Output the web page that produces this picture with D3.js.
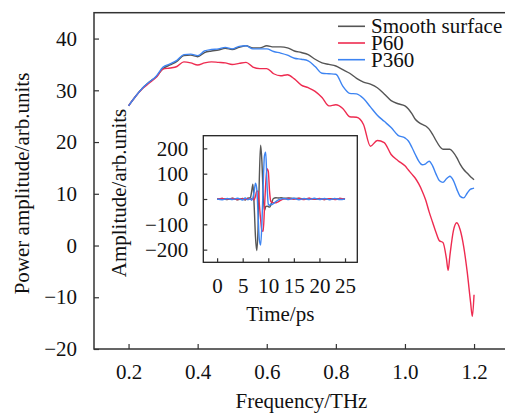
<!DOCTYPE html>
<html>
<meta charset="utf-8">
<title>Power spectrum</title>
<style>
body { margin: 0; background: #fff; }
text { font-family: "Liberation Serif", "Times New Roman", serif; font-size: 21px; fill: #111; }
.axis path { stroke: #333; }
.axis line { stroke: #333; stroke-width: 1.2; }
.serie { fill: none; stroke-width: 1.4; }
</style>
<script src="https://cdnjs.cloudflare.com/ajax/libs/d3/7.8.5/d3.min.js" charset="utf-8"></script>
<body>
<div id="chart"></div>
<script type="text/javascript">
// frequences (THz)
var freq = [0.20,0.22,0.24,0.26,0.28,0.30,0.32,0.34,0.36,0.38,0.40,0.42,0.44,0.46,0.48,0.50,
  0.52,0.54,0.56,0.58,0.60,0.62,0.64,0.66,0.68,0.70,0.72,0.74,0.76,0.78,0.80,0.82,0.84,0.86,
  0.88,0.90,0.92,0.94,0.96,0.98,1.00,1.01,1.02,1.03,1.04,1.05,1.06,1.07,1.08,1.09,1.10,1.11,
  1.12,1.125,1.13,1.14,1.15,1.16,1.17,1.18,1.19,1.195,1.20];
var smooth = [27.0,28.8,30.4,31.6,32.6,34.2,34.9,35.6,36.7,36.8,36.5,37.3,37.6,37.8,38.1,37.9,
  38.3,38.6,38.2,38.2,38.6,38.4,38.4,38.2,37.6,37.3,36.9,36.0,35.3,35.0,34.7,34.0,33.3,32.3,
  31.6,31.2,30.5,29.3,28.0,27.4,27.0,26.4,25.5,24.4,23.8,23.4,23.1,22.5,21.5,20.3,19.2,18.6,
  18.6,18.6,18.6,18.0,17.0,15.7,14.7,14.0,13.3,13.0,12.7];
var p60 = [27.0,28.8,30.3,31.4,32.5,34.1,34.3,34.6,35.5,35.3,34.9,35.3,35.5,35.4,35.3,35.0,
  35.2,35.4,34.5,34.2,34.2,33.2,32.8,33.0,32.2,31.0,30.5,29.8,28.6,27.0,27.2,26.5,24.9,24.8,
  23.4,19.2,20.3,19.9,17.6,16.4,15.4,14.6,13.8,13.0,11.9,10.5,8.8,6.5,4.5,2.5,0.9,0.6,
  -2.5,-4.8,-2.0,2.8,4.4,3.0,-0.2,-5.0,-11.0,-13.7,-9.5];
var p360 = [27.0,28.8,30.4,31.6,32.7,34.5,35.1,35.8,36.9,37.0,36.7,37.6,37.9,38.0,38.3,38.0,
  38.5,38.6,38.0,38.0,38.0,37.5,37.2,36.8,36.2,36.0,35.7,34.6,33.3,33.2,33.1,30.8,29.4,29.3,
  28.4,26.8,25.2,24.0,22.8,21.3,20.8,20.2,19.0,17.6,16.3,15.6,15.8,16.3,15.4,13.8,12.5,12.2,
  12.9,13.2,13.4,12.6,10.9,9.5,9.2,10.1,10.9,11.0,11.1];
var freqTicks = [0.2,0.4,0.6,0.8,1.0,1.2];
var powerTicks = [-20,-10,0,10,20,30,40];

// encart : signal temporel (ps)
var time = [0,1,2,3,4,5,5.5,6,6.5,6.75,7,7.25,7.5,7.75,8,8.25,8.5,8.75,9,9.25,9.5,9.75,10,
  10.25,10.5,10.75,11,11.5,12,12.5,13,14,15,16,17,18,19,20,21,22,23,24,25];
var ampSmooth = [0,2,-2,3,-3,2,-4,3,5,30,58,-30,-150,-204,-120,80,212,150,20,-45,-30,-28,-30,
  -32,-25,-10,2,5,4,5,3,4,2,3,0,2,-1,1,-2,1,-1,2,0];
var ampP60 = [0,2,-1,2,-2,1,-2,2,-1,2,0,-3,10,32,30,-20,-80,-125,-128,-40,60,120,110,
  30,-10,-13,-15,-15,-10,-4,0,2,-1,2,-2,3,-1,2,-2,1,-2,2,0];
var ampP360 = [0,-3,2,-2,3,-4,4,-3,2,-5,5,30,62,40,-60,-160,-182,-100,50,170,185,60,-20,
  -25,-20,-22,-18,-10,-3,0,2,-2,3,-3,2,-2,3,-2,2,-3,2,-2,0];
var timeTicks = [0,5,10,15,20,25];
var ampTicks = [-200,-100,0,100,200];

var names = ["Smooth surface", "P60", "P360"];
var colors = ["#555555", "#ee2b50", "#3d84f2"];

var width = 505, height = 413;
var svg = d3.select("#chart").append("svg")
    .attr("width", width)
    .attr("height", height);

// echelles principales
var x = d3.scaleLinear().domain([0.1, 1.3]).range([94, 508.6]);
var y = d3.scaleLinear().domain([-20, 45]).range([349, 12.7]);

svg.append("rect")
    .attr("x", x(0.1)).attr("y", y(45))
    .attr("width", x(1.3) - x(0.1)).attr("height", y(-20) - y(45))
    .attr("fill", "none").attr("stroke", "#333").attr("stroke-width", 1.5);

svg.append("g").attr("class", "axis")
    .attr("transform", "translate(0," + y(-20) + ")")
    .call(d3.axisBottom(x).tickValues(freqTicks).tickFormat(d3.format(".1f"))
      .tickSizeInner(-5).tickSizeOuter(0).tickPadding(15.5))
    .call(function(g) { g.select(".domain").remove(); g.selectAll("text").style("font-size", null).attr("font-family", null); });

svg.append("g").attr("class", "axis")
    .attr("transform", "translate(" + x(0.1) + ",0)")
    .call(d3.axisLeft(y).tickValues(powerTicks)
      .tickSizeInner(-5).tickSizeOuter(0).tickPadding(17))
    .call(function(g) { g.select(".domain").remove(); g.selectAll("text").attr("font-family", null).attr("font-size", null); });

var series = [smooth, p60, p360];
var line = d3.line()
    .x(function(d, i) { return x(freq[i]); })
    .y(function(d) { return y(d); })
    .curve(d3.curveMonotoneX);

series.forEach(function(s, k) {
  svg.append("path").attr("class", "serie")
      .attr("d", line(s))
      .attr("stroke", colors[k]);
});

svg.append("text")
    .attr("text-anchor", "middle")
    .attr("x", 301.5).attr("y", 408)
    .text("Frequency/THz");

svg.append("text")
    .attr("text-anchor", "middle")
    .attr("transform", "translate(29,183.5) rotate(-90)")
    .text("Power amplitude/arb.units");

// legende
var leg = svg.append("g");
names.forEach(function(n, k) {
  var by = 33.3 + k * 16.7;
  leg.append("line")
      .attr("x1", 338).attr("x2", 365)
      .attr("y1", by - 7).attr("y2", by - 7)
      .attr("stroke", colors[k]).attr("stroke-width", 1.6);
  leg.append("text").attr("x", 371).attr("y", by).text(n);
});

// encart
var xi = d3.scaleLinear().domain([-2.7, 27.4]).range([203.3, 357.3]);
var yi = d3.scaleLinear().domain([-250, 250]).range([262.3, 135.7]);

svg.append("rect")
    .attr("x", xi(-2.7)).attr("y", yi(250))
    .attr("width", xi(27.4) - xi(-2.7)).attr("height", yi(-250) - yi(250))
    .attr("fill", "#fff").attr("stroke", "#222").attr("stroke-width", 1.3);

svg.append("g").attr("class", "axis")
    .attr("transform", "translate(0," + yi(-250) + ")")
    .call(d3.axisBottom(xi).tickValues(timeTicks)
      .tickSizeInner(-4).tickSizeOuter(0).tickPadding(15.3))
    .call(function(g) { g.select(".domain").remove(); g.selectAll("text").attr("font-family", null).attr("font-size", null); });

svg.append("g").attr("class", "axis")
    .attr("transform", "translate(" + xi(-2.7) + ",0)")
    .call(d3.axisLeft(yi).tickValues(ampTicks)
      .tickSizeInner(-4).tickSizeOuter(0).tickPadding(15))
    .call(function(g) { g.select(".domain").remove(); g.selectAll("text").attr("font-family", null).attr("font-size", null); });

var lineI = d3.line()
    .x(function(d, i) { return xi(time[i]); })
    .y(function(d) { return yi(d); })
    .curve(d3.curveMonotoneX);

[ampSmooth, ampP60, ampP360].forEach(function(s, k) {
  svg.append("path").attr("class", "serie")
      .attr("d", lineI(s))
      .attr("stroke", colors[k]).attr("stroke-width", 1.3);
});

svg.append("text")
    .attr("text-anchor", "middle")
    .attr("x", 280.3).attr("y", 320.5)
    .text("Time/ps");

svg.append("text")
    .attr("text-anchor", "middle")
    .attr("transform", "translate(126,193) rotate(-90)")
    .text("Amplitude/arb.units");
</script>
</body>
</html>
